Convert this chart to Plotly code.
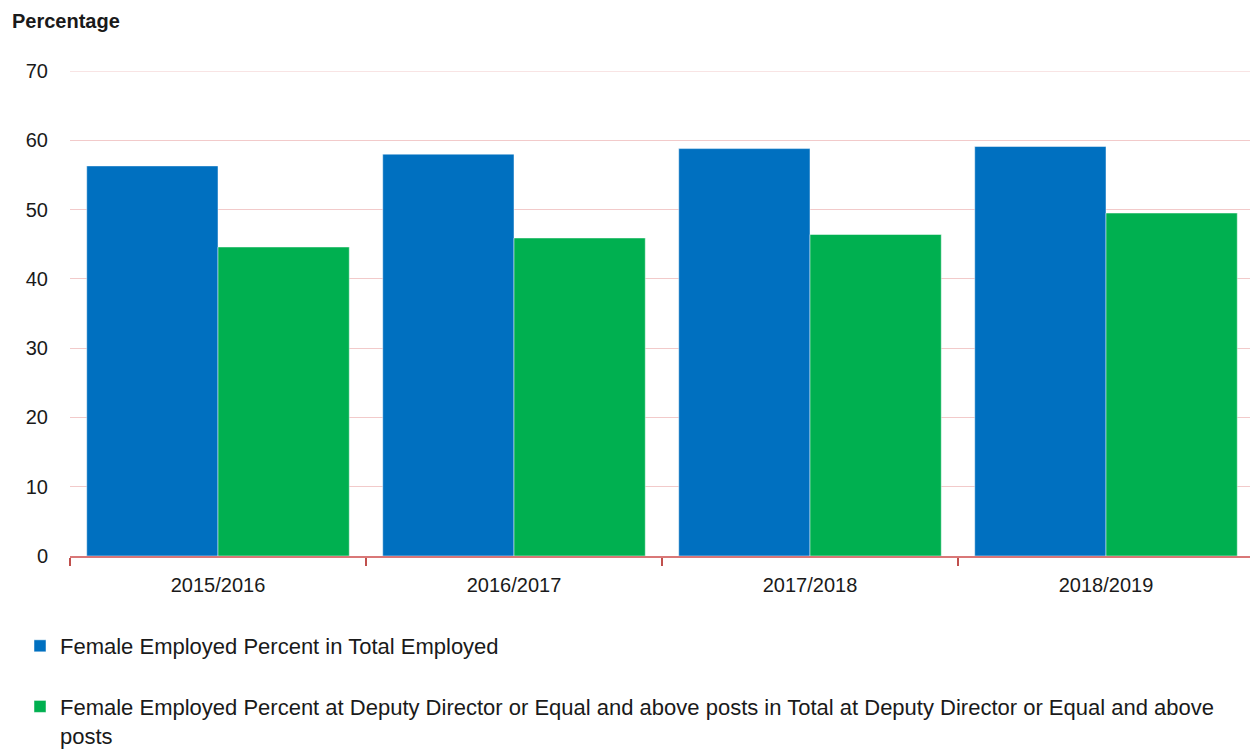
import plotly.graph_objects as go

categories = ["2015/2016", "2016/2017", "2017/2018", "2018/2019"]
total_employed = [56.3, 58.0, 58.8, 59.1]
deputy_director = [44.6, 45.9, 46.4, 49.5]
series_names = [
    "Female Employed Percent in Total Employed",
    "Female Employed Percent at Deputy Director or Equal and above posts in Total at Deputy Director or Equal and above<br>posts",
]
y_ticks = [0, 10, 20, 30, 40, 50, 60, 70]
y_max = 70

FONT = "Liberation Sans, Arial, sans-serif"

fig = go.Figure()
fig.add_trace(go.Bar(x=categories, y=total_employed, name=series_names[0],
                     marker=dict(color="#0070c0", line=dict(color="rgba(255,255,255,0.6)", width=0.8)),
                     legendgroup="a"))
fig.add_trace(go.Bar(x=categories, y=deputy_director, name=series_names[1],
                     marker=dict(color="#00b050", line=dict(color="rgba(255,255,255,0.6)", width=0.8)),
                     legendgroup="b"))

fig.update_layout(
    width=1250, height=747,
    margin=dict(l=62, r=4, t=63, b=199, autoexpand=False),
    paper_bgcolor="white", plot_bgcolor="white",
    barmode="group", bargap=0.113, bargroupgap=0,
    font=dict(family=FONT, size=20, color="#1a1a1a"),
    showlegend=True,
    legend=dict(
        orientation="v", xref="container", yref="container",
        x=0.0096, y=0.174, xanchor="left", yanchor="top",
        font=dict(family=FONT, size=22, color="#1a1a1a"),
        valign="top", tracegroupgap=29, traceorder="grouped",
        bgcolor="rgba(0,0,0,0)",
    ),
    annotations=[dict(
        text="<b>Percentage</b>", xref="paper", yref="paper",
        x=0, y=1, xshift=-60, yshift=50, xanchor="left", yanchor="middle",
        showarrow=False, font=dict(family=FONT, size=20, color="#1a1a1a"),
    )],
    shapes=[dict(type="line", xref="paper", yref="y", x0=0, x1=1, y0=y_max, y1=y_max,
                 line=dict(color="#f2caca", width=1.2), layer="below")],
)
fig.update_xaxes(
    showline=True, linecolor="#d97777", linewidth=1.5,
    ticks="outside", tickson="boundaries", ticklen=8, tickcolor="#c0504d", tickwidth=1.5,
    showgrid=False, tickfont=dict(size=20), ticklabelstandoff=10, tickangle=0,
)
fig.update_yaxes(
    range=[0, y_max], tickvals=y_ticks, showgrid=True, gridcolor="#f2caca", gridwidth=1.2,
    zeroline=False, showline=False, tickfont=dict(size=20), ticklabelstandoff=21,
)

fig.write_html("out.html")
